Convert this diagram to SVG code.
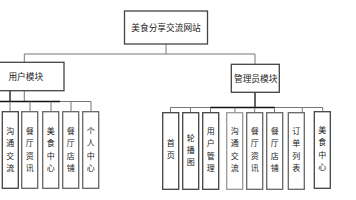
<svg xmlns="http://www.w3.org/2000/svg" width="356" height="200" viewBox="0 0 356 200">
<style>
.box{fill:#fff;stroke:#444;stroke-width:1.3}
.mid{stroke:#666}
.light{stroke:#999}
.t{font-family:"Noto Sans CJK SC","Noto Sans",sans-serif;font-size:8.7px;fill:#222;text-anchor:middle}
.v{font-family:"Noto Sans CJK SC","Noto Sans",sans-serif;font-size:8px;fill:#222;text-anchor:middle}
.ln{fill:none;stroke:#777;stroke-width:1}
.dk{fill:none;stroke:#111;stroke-width:1.3}
</style>
<rect width="356" height="200" fill="#fff"/>
<g id="connectors">
<path class="ln" d="M166 44V54M24.3 54H255M24.3 54V62.3M255 54V64.3"/>
<path class="ln" d="M24.3 90.7V101.5"/>
<path class="dk" d="M10 90.7V101.5M0 101.5H60"/>
<path class="ln" d="M60 101.5H91M10 101.5V111.7M30 101.5V111.7M51 101.5V111.7M71 101.5V111.7M91 101.5V111.7"/>
<path class="dk" d="M255 92.3V107.5M210 107.5H275"/>
<path class="ln" d="M170.5 107.5H210M275 107.5H322.7M170.5 107.5V112.7M190.5 107.5V112.7M210.5 107.5V112.7M235 107.5V112.7M254.7 107.5V112.7M274.5 107.5V112.7M302.3 107.5V112.7M322.7 107.5V111.7"/>
</g>
<g id="root"><rect class="box" x="124.5" y="11" width="83" height="33"/><text class="t" x="166" y="30.8">美食分享交流网站</text></g>
<g id="user"><rect class="box" x="-15" y="62.3" width="79" height="28.4"/><text class="t" x="25.8" y="79.7">用户模块</text></g>
<g id="admin"><rect class="box" x="231.3" y="64.3" width="48" height="28"/><text class="t" x="255.7" y="81.5">管理员模块</text></g>
<g id="u1"><rect class="box" x="2.3" y="111.7" width="16" height="76.6"/><text class="v"><tspan x="10.3" y="134">沟</tspan><tspan x="10.3" y="146.3">通</tspan><tspan x="10.3" y="158.6">交</tspan><tspan x="10.3" y="171">流</tspan></text></g>
<g id="u2"><rect class="box mid" x="21.7" y="111.7" width="16" height="76.6"/><text class="v"><tspan x="29.7" y="134">餐</tspan><tspan x="29.7" y="146.3">厅</tspan><tspan x="29.7" y="158.6">资</tspan><tspan x="29.7" y="171">讯</tspan></text></g>
<g id="u3"><rect class="box mid" x="42.7" y="111.7" width="16" height="76.6"/><text class="v"><tspan x="50.7" y="134">美</tspan><tspan x="50.7" y="146.3">食</tspan><tspan x="50.7" y="158.6">中</tspan><tspan x="50.7" y="171">心</tspan></text></g>
<g id="u4"><rect class="box mid" x="62.7" y="111.7" width="16" height="76.6"/><text class="v"><tspan x="70.7" y="134">餐</tspan><tspan x="70.7" y="146.3">厅</tspan><tspan x="70.7" y="158.6">店</tspan><tspan x="70.7" y="171">铺</tspan></text></g>
<g id="u5"><rect class="box mid" x="82.7" y="111.7" width="16" height="76.6"/><text class="v"><tspan x="90.7" y="134">个</tspan><tspan x="90.7" y="146.3">人</tspan><tspan x="90.7" y="158.6">中</tspan><tspan x="90.7" y="171">心</tspan></text></g>
<g id="a1"><rect class="box" x="162.7" y="112.7" width="16" height="76.6"/><text class="v"><tspan x="170.7" y="146.3">首</tspan><tspan x="170.7" y="158.3">页</tspan></text></g>
<g id="a2"><rect class="box" x="182.7" y="112.7" width="16" height="76.6"/><text class="v"><tspan x="190.7" y="141.3">轮</tspan><tspan x="190.7" y="153.3">播</tspan><tspan x="190.7" y="165">图</tspan></text></g>
<g id="a3"><rect class="box" x="202.7" y="112.7" width="16" height="76.6"/><text class="v"><tspan x="210.7" y="134">用</tspan><tspan x="210.7" y="146.3">户</tspan><tspan x="210.7" y="158.6">管</tspan><tspan x="210.7" y="171">理</tspan></text></g>
<g id="a4"><rect class="box light" x="226.7" y="112.7" width="16" height="76.6"/><text class="v"><tspan x="234.7" y="134">沟</tspan><tspan x="234.7" y="146.3">通</tspan><tspan x="234.7" y="158.6">交</tspan><tspan x="234.7" y="171">流</tspan></text></g>
<g id="a5"><rect class="box mid" x="246.7" y="112.7" width="16" height="76.6"/><text class="v"><tspan x="254.7" y="134">餐</tspan><tspan x="254.7" y="146.3">厅</tspan><tspan x="254.7" y="158.6">资</tspan><tspan x="254.7" y="171">讯</tspan></text></g>
<g id="a6"><rect class="box mid" x="266.7" y="112.7" width="16" height="76.6"/><text class="v"><tspan x="274.7" y="134">餐</tspan><tspan x="274.7" y="146.3">厅</tspan><tspan x="274.7" y="158.6">店</tspan><tspan x="274.7" y="171">铺</tspan></text></g>
<g id="a7"><rect class="box mid" x="288.3" y="112.7" width="16" height="76.6"/><text class="v"><tspan x="296.3" y="134">订</tspan><tspan x="296.3" y="146.3">单</tspan><tspan x="296.3" y="158.6">列</tspan><tspan x="296.3" y="171">表</tspan></text></g>
<g id="a8"><rect class="box" x="314.3" y="111.7" width="16" height="76.6"/><text class="v"><tspan x="322.3" y="133">美</tspan><tspan x="322.3" y="145.3">食</tspan><tspan x="322.3" y="157.6">中</tspan><tspan x="322.3" y="170">心</tspan></text></g>
</svg>
